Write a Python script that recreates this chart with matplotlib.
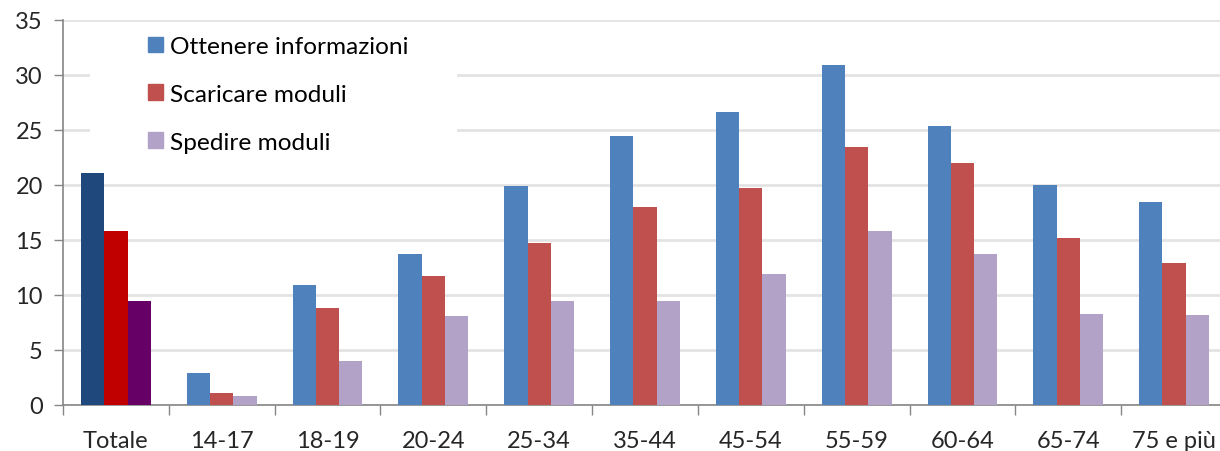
import numpy as np
import matplotlib
matplotlib.use("Agg")
import matplotlib.pyplot as plt
from matplotlib.patches import Rectangle, Patch

plt.rcParams["font.family"] = ["Lato", "DejaVu Sans"]

categories = ["Totale", "14-17", "18-19", "20-24", "25-34", "35-44",
              "45-54", "55-59", "60-64", "65-74", "75 e più"]
series = ["Ottenere informazioni", "Scaricare moduli", "Spedire moduli"]
ottenere = [21.1, 2.9, 10.9, 13.7, 19.9, 24.5, 26.6, 30.9, 25.4, 20.0, 18.5]
scaricare = [15.8, 1.1, 8.8, 11.7, 14.7, 18.0, 19.7, 23.5, 22.0, 15.2, 12.9]
spedire = [9.5, 0.8, 4.0, 8.1, 9.5, 9.5, 11.9, 15.8, 13.7, 8.3, 8.2]

colors = ["#4F81BD", "#C0504D", "#B2A2C7"]
total_colors = ["#1F497D", "#C00000", "#660066"]

fig = plt.figure(figsize=(12.2, 4.52), dpi=100)
ax = fig.add_axes([63 / 1220, 46 / 452, 1164 / 1220, 385 / 452])

x = np.arange(len(categories))
w = 0.22
for i, vals in enumerate([ottenere, scaricare, spedire]):
    cols = [total_colors[i]] + [colors[i]] * (len(categories) - 1)
    ax.bar(x + (i - 1) * w, vals, width=w, color=cols, zorder=3)

ax.set_xlim(-0.5, len(categories) - 0.5)
ax.set_ylim(0, 35)
ax.set_yticks(range(0, 36, 5))
ax.yaxis.grid(True, color="#e3e3e3", linewidth=2, zorder=0)
ax.set_axisbelow(True)

# white panel behind the legend hides the gridlines there
ax.add_patch(Rectangle((-0.245, 20.7), 3.47, 13.9, facecolor="white",
                       edgecolor="none", zorder=1))

ax.set_xticks(x)
ax.set_xticklabels(categories)
ax.set_xticks(np.arange(-0.5, len(categories), 1), minor=True)
ax.tick_params(axis="x", which="major", length=0, pad=18, labelsize=17, colors="#262626")
ax.tick_params(axis="x", which="minor", length=7.5, width=1, color="#868686")
ax.tick_params(axis="y", length=6.5, width=1, color="#868686", pad=8,
               labelsize=17, labelcolor="#262626")

for s in ["top", "right"]:
    ax.spines[s].set_visible(False)
for s in ["left", "bottom"]:
    ax.spines[s].set_color("#868686")
    ax.spines[s].set_linewidth(1.2)

handles = [Patch(color=c) for c in colors]
ax.legend(handles, series, loc="upper left", bbox_to_anchor=(0.0625, 0.99),
          frameon=False, borderpad=0, fontsize=17.6, handlelength=0.62,
          handleheight=0.62, handletextpad=0.3, labelspacing=1.1)

fig.savefig("out.png", dpi=100)
